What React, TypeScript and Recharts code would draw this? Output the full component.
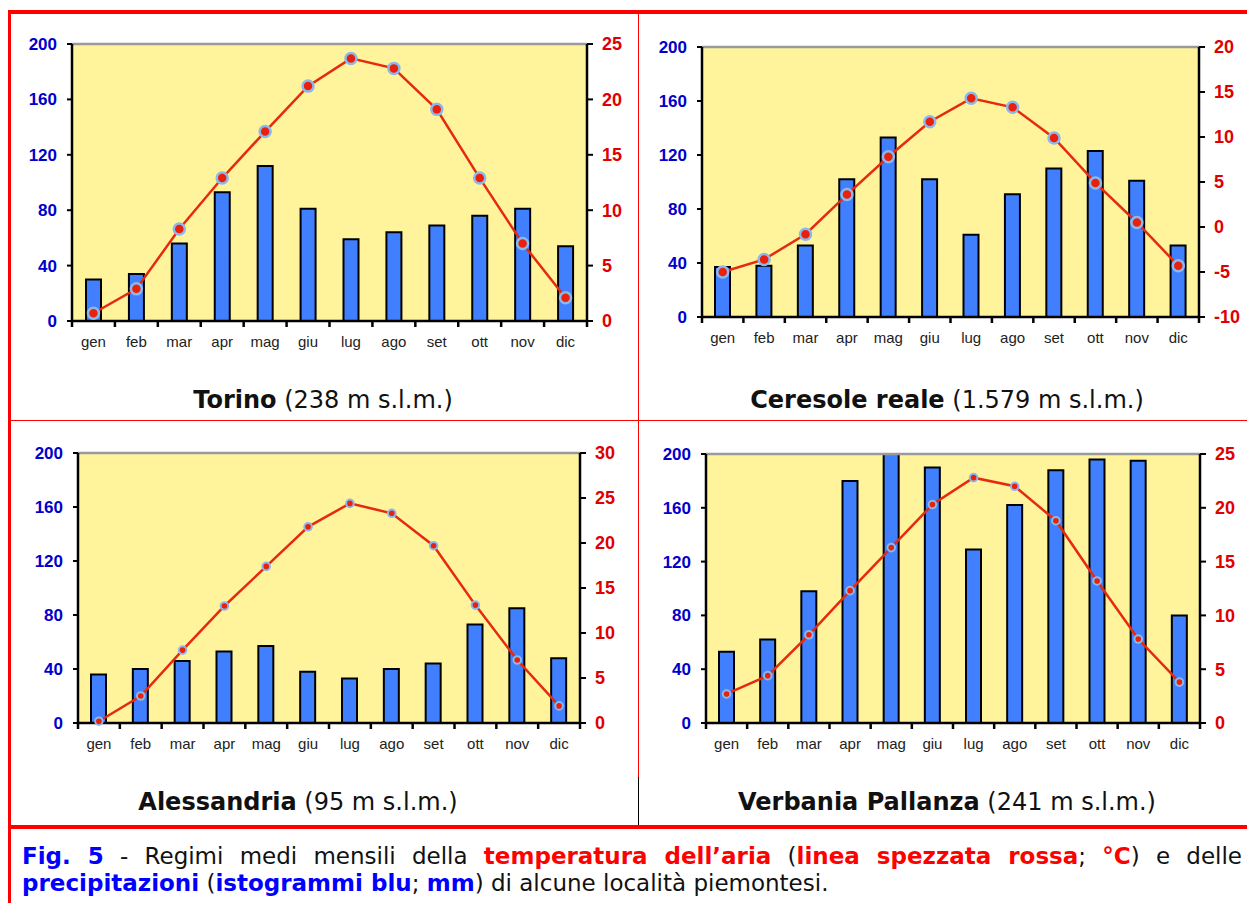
import React from 'react';
import {
  ComposedChart,
  Bar,
  Line,
  XAxis,
  YAxis,
  CartesianGrid,
  ReferenceLine,
} from 'recharts';

const months = ['gen', 'feb', 'mar', 'apr', 'mag', 'giu', 'lug', 'ago', 'set', 'ott', 'nov', 'dic'];
const rainTicks = [0, 40, 80, 120, 160, 200];

const torinoRain = [30, 34, 56, 93, 112, 81, 59, 64, 69, 76, 81, 54];
const torinoTemp = [0.7, 2.9, 8.3, 12.9, 17.1, 21.2, 23.7, 22.8, 19.1, 12.9, 7.0, 2.1];
const torinoTempTicks = [0, 5, 10, 15, 20, 25];

const ceresoleRain = [37, 38, 53, 102, 133, 102, 61, 91, 110, 123, 101, 53];
const ceresoleTemp = [-5.0, -3.6, -0.8, 3.6, 7.8, 11.7, 14.3, 13.3, 9.9, 4.9, 0.5, -4.3];
const ceresoleTempTicks = [-10, -5, 0, 5, 10, 15, 20];

const alessandriaRain = [36, 40, 46, 53, 57, 38, 33, 40, 44, 73, 85, 48];
const alessandriaTemp = [0.2, 3.0, 8.1, 13.0, 17.4, 21.8, 24.4, 23.3, 19.7, 13.1, 7.0, 1.9];
const alessandriaTempTicks = [0, 5, 10, 15, 20, 25, 30];

const verbaniaRain = [53, 62, 98, 180, 210, 190, 129, 162, 188, 196, 195, 80];
const verbaniaTemp = [2.7, 4.4, 8.2, 12.3, 16.3, 20.3, 22.8, 22.0, 18.8, 13.2, 7.8, 3.8];
const verbaniaTempTicks = [0, 5, 10, 15, 20, 25];

const ARIAL = '"Liberation Sans", Arial, sans-serif';
const VERDANA = '"DejaVu Sans", Verdana, sans-serif';
const RED = '#FF0000';

// space reserved around the plot area inside each chart
const LW = 72;
const RW = 60;
const MT = 12;
const XH = 40;

interface PanelProps {
  plotLeft: number;
  plotTop: number;
  plotW: number;
  plotH: number;
  rain: number[];
  temp: number[];
  tempTicks: number[];
  dotR: number;
  dotStroke: number;
}

function Panel({ plotLeft, plotTop, plotW, plotH, rain, temp, tempTicks, dotR, dotStroke }: PanelProps) {
  const data = months.map((m, i) => ({ month: m, rain: rain[i], temp: temp[i] }));
  const bw = plotW / 12;

  const MonthTick = (props: any) => {
    const { x, y, payload } = props;
    const index = props.index ?? payload.index;
    return (
      <g>
        <line x1={x - bw / 2} y1={y} x2={x - bw / 2} y2={y + 6} stroke="#000" strokeWidth={2.5} />
        {index === 11 && (
          <line x1={x + bw / 2} y1={y} x2={x + bw / 2} y2={y + 6} stroke="#000" strokeWidth={2.5} />
        )}
        <text x={x} y={y + 26} textAnchor="middle" fill="#222" fontSize={15} fontFamily={ARIAL}>
          {payload.value}
        </text>
      </g>
    );
  };

  return (
    <div style={{ position: 'absolute', left: plotLeft - LW, top: plotTop - MT }}>
      <ComposedChart
        width={LW + plotW + RW}
        height={MT + plotH + XH}
        data={data}
        margin={{ top: MT, right: 0, bottom: 0, left: 0 }}
      >
        <CartesianGrid fill="#FFF49C" fillOpacity={1} stroke="none" horizontal={false} vertical={false} />
        <XAxis
          dataKey="month"
          height={XH}
          interval={0}
          tickSize={0}
          tickMargin={0}
          tickLine={false}
          axisLine={{ stroke: '#000', strokeWidth: 2.5 }}
          tick={<MonthTick />}
        />
        <YAxis
          domain={[0, 200]}
          ticks={rainTicks}
          allowDataOverflow
          width={LW}
          tickSize={5}
          tickMargin={10}
          axisLine={{ stroke: '#000', strokeWidth: 2.5 }}
          tickLine={{ stroke: '#000', strokeWidth: 2 }}
          tick={{ fill: '#0000CC', fontSize: 17, fontWeight: 'bold', fontFamily: ARIAL }}
        />
        <YAxis
          yAxisId="t"
          orientation="right"
          domain={[tempTicks[0], tempTicks[tempTicks.length - 1]]}
          ticks={tempTicks}
          width={RW}
          tickSize={6}
          tickMargin={9}
          axisLine={{ stroke: '#000', strokeWidth: 2.5 }}
          tickLine={{ stroke: '#000', strokeWidth: 2 }}
          tick={{ fill: '#E00000', fontSize: 18, fontWeight: 'bold', fontFamily: ARIAL }}
        />
        <ReferenceLine y={200} stroke="#9A9A9A" strokeWidth={2.5} />
        <Bar dataKey="rain" fill="#4080FF" stroke="#000" strokeWidth={2} barSize={15} isAnimationActive={false} />
        <Line
          yAxisId="t"
          type="linear"
          dataKey="temp"
          stroke="#E62A10"
          strokeWidth={2.5}
          dot={{ r: dotR, fill: '#E8200C', stroke: '#8CB8EC', strokeWidth: dotStroke, fillOpacity: 1 }}
          isAnimationActive={false}
        />
      </ComposedChart>
    </div>
  );
}

function Title({ cx, cy, bold, rest }: { cx: number; cy: number; bold: string; rest: string }) {
  return (
    <div
      style={{
        position: 'absolute',
        left: cx - 300,
        top: cy - 16,
        width: 600,
        textAlign: 'center',
        fontFamily: VERDANA,
        fontSize: 24,
        lineHeight: '32px',
        color: '#111',
        whiteSpace: 'nowrap',
      }}
    >
      <b>{bold}</b> {rest}
    </div>
  );
}

const box = (left: number, top: number, width: number, height: number, bg: string) => (
  <div style={{ position: 'absolute', left, top, width, height, background: bg }} />
);

export default function App() {
  const blue = { color: '#0000FF', fontWeight: 'bold' as const };
  const red = { color: RED, fontWeight: 'bold' as const };
  const captionLine = {
    position: 'absolute' as const,
    left: 22,
    width: 1220,
    fontFamily: VERDANA,
    fontSize: 23,
    lineHeight: '27px',
    color: '#111',
    whiteSpace: 'nowrap' as const,
  };
  return (
    <div
      style={{
        position: 'absolute',
        left: 0,
        top: 0,
        width: 1247,
        height: 903,
        background: '#fff',
        overflow: 'hidden',
      }}
    >
      {box(8, 10, 1239, 4, RED)}
      {box(8, 10, 3, 893, RED)}
      {box(11, 420, 1236, 1, RED)}
      {box(638, 14, 1, 763, RED)}
      {box(638, 777, 1, 48, '#000')}
      {box(8, 825, 1239, 4, RED)}

      <Panel plotLeft={72} plotTop={44} plotW={515} plotH={277} rain={torinoRain} temp={torinoTemp}
        tempTicks={torinoTempTicks} dotR={5.5} dotStroke={2.5} />
      <Panel plotLeft={702} plotTop={47} plotW={497} plotH={270} rain={ceresoleRain} temp={ceresoleTemp}
        tempTicks={ceresoleTempTicks} dotR={5.5} dotStroke={2.5} />
      <Panel plotLeft={78} plotTop={453} plotW={502} plotH={270} rain={alessandriaRain} temp={alessandriaTemp}
        tempTicks={alessandriaTempTicks} dotR={3.8} dotStroke={2} />
      <Panel plotLeft={706} plotTop={454} plotW={494} plotH={269} rain={verbaniaRain} temp={verbaniaTemp}
        tempTicks={verbaniaTempTicks} dotR={3.8} dotStroke={2} />

      <Title cx={323} cy={400} bold="Torino" rest="(238 m s.l.m.)" />
      <Title cx={947} cy={400} bold="Ceresole reale" rest="(1.579 m s.l.m.)" />
      <Title cx={298} cy={802} bold="Alessandria" rest="(95 m s.l.m.)" />
      <Title cx={947} cy={802} bold="Verbania Pallanza" rest="(241 m s.l.m.)" />

      <div style={{ ...captionLine, top: 843, whiteSpace: 'normal', textAlign: 'justify', textAlignLast: 'justify' }}>
        <span style={blue}>Fig. 5</span> - Regimi medi mensili della{' '}
        <span style={red}>temperatura dell’aria</span> (<span style={red}>linea spezzata rossa</span>;{' '}
        <span style={red}>°C</span>) e delle
      </div>
      <div style={{ ...captionLine, top: 870 }}>
        <span style={blue}>precipitazioni</span> (<span style={blue}>istogrammi blu</span>;{' '}
        <span style={blue}>mm</span>) di alcune località piemontesi.
      </div>
    </div>
  );
}
